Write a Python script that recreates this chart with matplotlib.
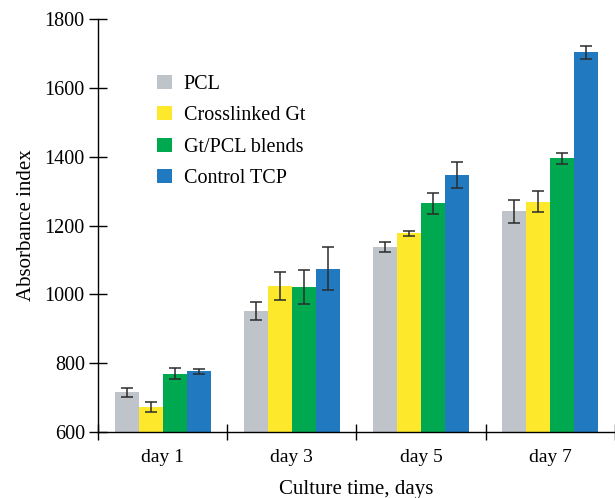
import matplotlib
matplotlib.use("Agg")
import matplotlib.pyplot as plt
import numpy as np

# data
days = ["day 1", "day 3", "day 5", "day 7"]
groups = ["PCL", "Crosslinked Gt", "Gt/PCL blends", "Control TCP"]
pcl = [715, 952, 1137, 1241]
pcl_err = [12, 26, 15, 33]
gt = [672, 1024, 1177, 1269]
gt_err = [15, 41, 8, 31]
blend = [770, 1021, 1264, 1395]
blend_err = [16, 49, 30, 16]
tcp = [776, 1075, 1346, 1703]
tcp_err = [8, 62, 38, 20]

colors = ["#BFC4CB", "#FDE82B", "#00A94F", "#2179BF"]

plt.rcParams["font.family"] = ["Liberation Serif", "DejaVu Serif"]

fig = plt.figure(figsize=(6.15, 4.98), dpi=100)
ax = fig.add_axes([0.1593, 0.1325, 0.8407, 0.8293])

values = [pcl, gt, blend, tcp]
errors = [pcl_err, gt_err, blend_err, tcp_err]
width = 0.186
centers = np.arange(len(days)) + 0.5
for i, (vals, errs) in enumerate(zip(values, errors)):
    x = centers + (i - 1.5) * width
    ax.bar(x, np.array(vals) - 600, width, bottom=600, color=colors[i],
           label=groups[i], zorder=2)
    ax.errorbar(x, vals, yerr=errs, fmt="none", ecolor="#2b2b2b",
                elinewidth=1.1, capsize=4, capthick=1.1, zorder=3)

ax.set_xlim(0, 4)
ax.set_ylim(600, 1800)
ax.set_yticks(range(600, 1801, 200))
ax.set_xticks(range(0, 5))
ax.set_xticklabels([])
ax.set_xticks(centers, minor=True)
ax.set_xticklabels(days, minor=True)
ax.tick_params(axis="x", which="minor", length=0, pad=12, labelsize=14)
ax.tick_params(axis="x", which="major", direction="inout", length=12, width=1)
ax.tick_params(axis="y", direction="inout", length=13, width=1, labelsize=14.5, pad=3)

for s in ["top", "right"]:
    ax.spines[s].set_visible(False)
ax.spines["left"].set_linewidth(1)
ax.spines["bottom"].set_linewidth(1)

ax.set_ylabel("Absorbance index", fontsize=15, labelpad=6)
ax.set_xlabel("Culture time, days", fontsize=15, labelpad=10)

ax.legend(loc="upper left", bbox_to_anchor=(0.08, 0.908), frameon=False,
          fontsize=14.5, handlelength=0.7, handleheight=0.7,
          handletextpad=0.6, labelspacing=0.6)

fig.savefig("out.png", dpi=100)
